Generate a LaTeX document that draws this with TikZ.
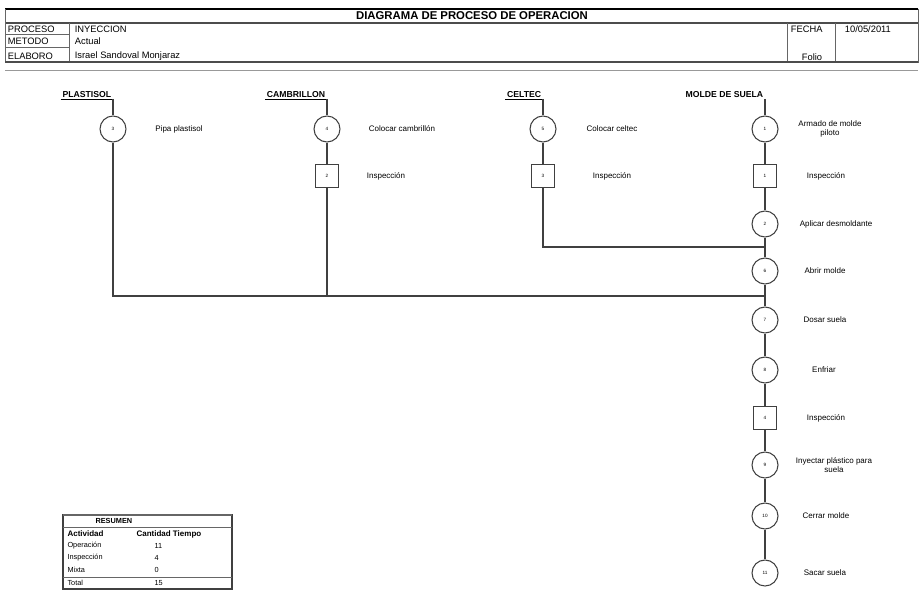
\documentclass[tikz,border=0pt]{standalone}
\usepackage{fontspec}
\setmainfont{Liberation Sans}
\usepackage[dvipsnames]{xcolor}

\begin{document}
\begin{tikzpicture}[x=0.75pt,y=-0.75pt,thick,
  op node/.style={circle,draw=black!75,minimum size=19.5pt,inner sep=0pt,font=\fontsize{3.5}{4}\selectfont},
  insp node/.style={rectangle,draw=black!75,minimum size=17.5pt,inner sep=0pt,font=\fontsize{3.5}{4}\selectfont},
  lbl/.style={align=center,font=\fontsize{6}{7}\selectfont},
  ttl/.style={inner sep=1pt,font=\bfseries\fontsize{6.5}{7.5}\selectfont},
  head/.style={anchor=west,inner sep=1pt,font=\fontsize{7}{8}\selectfont},
  tab/.style={anchor=west,inner sep=0pt,font=\fontsize{5.5}{6.5}\selectfont}]

\useasboundingbox (0,0) rectangle (920,595);

% encabezado
\draw[line width=2pt] (5,9) -- (918,9);
\node[font=\bfseries\fontsize{8.5}{9.5}\selectfont] (titulo) at (472,16) {DIAGRAMA DE PROCESO DE OPERACION};
\draw[line width=1.2pt,black!70] (5,23) -- (918,23);
\draw[black!60,thin] (5,9) -- (5,63) (918,9) -- (918,63);
\draw[black!60,thin] (69,23) -- (69,62) (5,34) -- (69,34) (5,47) -- (69,47);
\node[head] (proceso) at (6,29) {PROCESO};
\node[head] (metodo) at (6,41) {METODO};
\node[head] (elaboro) at (6,56) {ELABORO};
\node[head] (vproceso) at (73,29) {INYECCION};
\node[head] (vmetodo) at (73,41) {Actual};
\node[head] (velaboro) at (73,56) {Israel Sandoval Monjaraz};
\draw[black!60,thin] (787,23) -- (787,62) (835,23) -- (835,62);
\node[head] (fecha) at (789,29) {FECHA};
\node[head] (folio) at (800,57) {Folio};
\node[head] (vfecha) at (843,29) {10/05/2011};
\draw[line width=1.2pt,black!70] (5,62) -- (918,62);
\draw[black!40,thin] (5,70) -- (918,70);

% materiales
\node[ttl,anchor=south east] (tplast) at (113,99) {PLASTISOL};
\node[ttl,anchor=south east] (tcamb) at (327,99) {CAMBRILLON};
\node[ttl,anchor=south east] (tcelt) at (543,99) {CELTEC};
\node[ttl,anchor=south east] (tmolde) at (765,99) {MOLDE DE SUELA};
\draw[thin] (tplast.south west) -- (tplast.south east);
\draw[thin] (tcamb.south west) -- (tcamb.south east);
\draw[thin] (tcelt.south west) -- (tcelt.south east);

% plastisol
\node[op node] (p3) at (113,129) {3};
\node[lbl] (lp3) at (179,129) {Pipa plastisol};

% cambrillon
\node[op node] (c4) at (327,129) {4};
\node[insp node] (ci2) at (327,176) {2};
\node[lbl] (lc4) at (402,129) {Colocar cambrillón};
\node[lbl] (lci2) at (386,176) {Inspección};

% celtec
\node[op node] (e5) at (543,129) {5};
\node[insp node] (ei3) at (543,176) {3};
\node[lbl] (le5) at (612,129) {Colocar celtec};
\node[lbl] (lei3) at (612,176) {Inspección};

% molde de suela
\node[op node] (m1) at (765,129) {1};
\node[insp node] (mi1) at (765,176) {1};
\node[op node] (m2) at (765,224) {2};
\node[op node] (m6) at (765,271) {6};
\node[op node] (m7) at (765,320) {7};
\node[op node] (m8) at (765,370) {8};
\node[insp node] (mi4) at (765,418) {4};
\node[op node] (m9) at (765,465) {9};
\node[op node] (m10) at (765,516) {10};
\node[op node] (m11) at (765,573) {11};

\node[lbl] (lm1) at (830,129) {Armado de molde\\piloto};
\node[lbl] (lmi1) at (826,176) {Inspección};
\node[lbl] (lm2) at (836,224) {Aplicar desmoldante};
\node[lbl] (lm6) at (825,271) {Abrir molde};
\node[lbl] (lm7) at (825,320) {Dosar suela};
\node[lbl] (lm8) at (824,370) {Enfriar};
\node[lbl] (lmi4) at (826,418) {Inspección};
\node[lbl] (lm9) at (834,465) {Inyectar plástico para\\suela};
\node[lbl] (lm10) at (826,516) {Cerrar molde};
\node[lbl] (lm11) at (825,573) {Sacar suela};

% uniones
\coordinate (jcelt) at (543,247);
\coordinate (jcelm) at (765,247);
\coordinate (jplast) at (113,296);
\coordinate (jcamb) at (327,296);
\coordinate (jmolde) at (765,296);

\draw[black!75] (tplast.south east) -- (p3) -- (jplast) -- (jmolde);
\draw[black!75] (tcamb.south east) -- (c4) -- (ci2) -- (jcamb);
\draw[black!75] (tcelt.south east) -- (e5) -- (ei3) -- (jcelt) -- (jcelm);
\draw[black!75] (tmolde.south east) -- (m1) -- (mi1) -- (m2) -- (m6) -- (m7) -- (m8) -- (mi4) -- (m9) -- (m10) -- (m11);

% resumen
\draw[black!75] (63,515) rectangle (232,589);
\draw[black!60,line width=1.2pt] (63,515) -- (232,515);
\draw[black!60,thin] (63,527) -- (232,527) (63,577) -- (232,577);
\node[tab,font=\bfseries\fontsize{5.5}{6.5}\selectfont] (resumen) at (95,521) {RESUMEN};
\node[tab,font=\bfseries\fontsize{6}{7}\selectfont] (actividad) at (67,534) {Actividad};
\node[tab,font=\bfseries\fontsize{6}{7}\selectfont] (cantidad) at (136,534) {Cantidad Tiempo};
\node[tab] (roper) at (67,546) {Operación};
\node[tab] (rinsp) at (67,558) {Inspección};
\node[tab] (rmixta) at (67,570) {Mixta};
\node[tab] (rtotal) at (67,583) {Total};
\node[tab] (noper) at (154,546) {11};
\node[tab] (ninsp) at (154,558) {4};
\node[tab] (nmixta) at (154,570) {0};
\node[tab] (ntotal) at (154,583) {15};
\end{tikzpicture}
\end{document}
